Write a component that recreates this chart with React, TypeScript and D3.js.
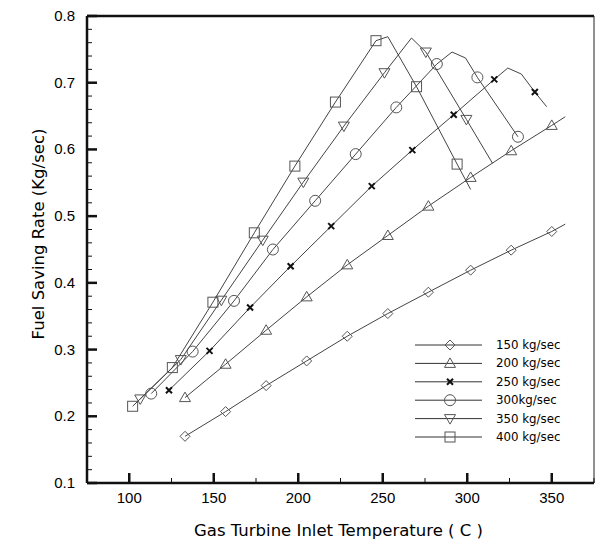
import React from 'react';
import { scaleLinear, line, range } from 'd3';

// series values (temperature C, fuel saving kg/sec)
// mark arrays: 1 = point drawn with a symbol, 0 = plain line vertex
const temps150 = [133, 157, 181, 205, 229, 253, 277, 302, 326, 350, 358];
const rates150 = [0.170, 0.207, 0.246, 0.283, 0.320, 0.354, 0.386, 0.419, 0.449, 0.477, 0.488];
const mark150 = [1, 1, 1, 1, 1, 1, 1, 1, 1, 1, 0];

const temps200 = [133, 157, 181, 205, 229, 253, 277, 302, 326, 350, 358];
const rates200 = [0.228, 0.278, 0.329, 0.379, 0.427, 0.471, 0.515, 0.558, 0.598, 0.636, 0.649];
const mark200 = [1, 1, 1, 1, 1, 1, 1, 1, 1, 1, 0];

const temps250 = [123.5, 147.5, 171.5, 195.5, 219.5, 243.5, 267.5, 292, 316, 324, 332, 340, 347];
const rates250 = [0.239, 0.298, 0.363, 0.425, 0.485, 0.545, 0.599, 0.652, 0.705, 0.722, 0.713, 0.686, 0.664];
const mark250 = [1, 1, 1, 1, 1, 1, 1, 1, 1, 0, 0, 1, 0];

const temps300 = [113, 137.5, 162, 185, 210, 234, 258, 282, 291, 299, 306, 330];
const rates300 = [0.234, 0.297, 0.373, 0.450, 0.523, 0.593, 0.663, 0.728, 0.746, 0.737, 0.708, 0.619];
const mark300 = [1, 1, 1, 1, 1, 1, 1, 1, 0, 0, 1, 1];

const temps350 = [106.5, 130.5, 154.5, 179, 203, 227, 251, 267, 275.5, 299.5, 315];
const rates350 = [0.226, 0.285, 0.374, 0.464, 0.551, 0.635, 0.715, 0.767, 0.746, 0.645, 0.579];
const mark350 = [1, 1, 1, 1, 1, 1, 1, 0, 1, 1, 0];

const temps400 = [102, 125.5, 149.5, 174, 198, 222, 246, 253, 270, 294, 302];
const rates400 = [0.215, 0.273, 0.371, 0.475, 0.575, 0.671, 0.763, 0.769, 0.694, 0.578, 0.540];
const mark400 = [1, 1, 1, 1, 1, 1, 1, 0, 1, 1, 0];

const seriesNames = ['150 kg/sec', '200 kg/sec', '250 kg/sec', '300kg/sec', '350 kg/sec', '400 kg/sec'];
const seriesShapes = ['diamond', 'triangle', 'cross', 'circle', 'triangleDown', 'square'];

const xTickLabels = [100, 150, 200, 250, 300, 350];
const yTickLabels = [0.1, 0.2, 0.3, 0.4, 0.5, 0.6, 0.7, 0.8];

const width = 595;
const height = 542;
const margin = { top: 16, right: 1, left: 87, bottom: 59 };

const Marker = ({ shape, x, y }) => {
  const stroke = '#555';
  if (shape === 'diamond') {
    return <path d={`M${x},${y - 5}L${x + 5},${y}L${x},${y + 5}L${x - 5},${y}Z`} fill="none" stroke={stroke} />;
  }
  if (shape === 'triangle') {
    return <path d={`M${x},${y - 5.5}L${x + 5.5},${y + 4}L${x - 5.5},${y + 4}Z`} fill="none" stroke={stroke} />;
  }
  if (shape === 'triangleDown') {
    return <path d={`M${x},${y + 5.5}L${x + 5.5},${y - 4}L${x - 5.5},${y - 4}Z`} fill="none" stroke={stroke} />;
  }
  if (shape === 'circle') {
    return <circle cx={x} cy={y} r={5.5} fill="none" stroke={stroke} />;
  }
  if (shape === 'square') {
    return <rect x={x - 5} y={y - 5} width={10} height={10} fill="none" stroke={stroke} />;
  }
  return <path d={`M${x - 3},${y - 3}L${x + 3},${y + 3}M${x + 3},${y - 3}L${x - 3},${y + 3}`} stroke="#111" strokeWidth={2} />;
};

const App = () => {
  const x = scaleLinear().domain([75, 375]).range([margin.left, width - margin.right]);
  const y = scaleLinear().domain([0.1, 0.8]).range([height - margin.bottom, margin.top]);

  const series = [
    [temps150, rates150, mark150],
    [temps200, rates200, mark200],
    [temps250, rates250, mark250],
    [temps300, rates300, mark300],
    [temps350, rates350, mark350],
    [temps400, rates400, mark400],
  ].map(([t, r, m], i) => ({
    name: seriesNames[i],
    shape: seriesShapes[i],
    points: t.map((v, j) => ({ t: v, r: r[j], m: m[j] })),
  }));

  const path = line().x(d => x(d.t)).y(d => y(d.r));

  const x0 = margin.left;
  const x1 = width - margin.right;
  const y0 = height - margin.bottom;
  const y1 = margin.top;

  const xMinor = range(75, 376, 25).filter(v => v % 50 !== 0);
  const yMinor = range(0.12, 0.8, 0.02).filter(v => Math.abs(v * 10 - Math.round(v * 10)) > 0.01);

  const font = 'Liberation Sans, Arial, sans-serif';
  const titleFont = 'DejaVu Sans, Verdana, sans-serif';

  return (
    <svg width={width} height={height} style={{ position: 'absolute', left: 0, top: 0, background: 'white' }}>
      {series.map(s => (
        <g key={s.name}>
          <path d={path(s.points)} fill="none" stroke="#444" strokeWidth={1} />
          {s.points.filter(p => p.m).map((p, j) => (
            <Marker key={j} shape={s.shape} x={x(p.t)} y={y(p.r)} />
          ))}
        </g>
      ))}

      {/* frame */}
      <line x1={x1} x2={x1} y1={y1} y2={y0} stroke="#222" strokeWidth={1} />
      <line x1={x0} x2={x1} y1={y1} y2={y1} stroke="#111" strokeWidth={2.5} />
      <line x1={x0} x2={x0} y1={y1} y2={y0} stroke="#111" strokeWidth={2.5} />
      <line x1={x0} x2={x1} y1={y0} y2={y0} stroke="#111" strokeWidth={2.5} />

      {/* x ticks */}
      {xTickLabels.map(v => (
        <g key={v}>
          <line x1={x(v)} x2={x(v)} y1={y0} y2={y0 - 10} stroke="#111" strokeWidth={2.5} />
          <text x={x(v)} y={y0 + 20} textAnchor="middle" style={{ fontSize: '15px', fontFamily: font }}>{v}</text>
        </g>
      ))}
      {xMinor.map(v => (
        <line key={v} x1={x(v)} x2={x(v)} y1={y0} y2={y0 - 5} stroke="#111" strokeWidth={1} />
      ))}

      {/* y ticks */}
      {yTickLabels.map(v => (
        <g key={v}>
          <line x1={x0} x2={x0 + 10} y1={y(v)} y2={y(v)} stroke="#111" strokeWidth={2.5} />
          <text x={x0 - 12} y={y(v) + 5} textAnchor="end" style={{ fontSize: '15px', fontFamily: font }}>{v.toFixed(1)}</text>
        </g>
      ))}
      {yMinor.map(v => (
        <line key={v} x1={x0} x2={x0 + 5} y1={y(v)} y2={y(v)} stroke="#111" strokeWidth={1} />
      ))}

      {/* axis titles */}
      <text x={(x0 + x1) / 2 - 2} y={536} textAnchor="middle" style={{ fontSize: '16.5px', fontFamily: titleFont }}>
        Gas Turbine Inlet Temperature ( C )
      </text>
      <text transform={`translate(44, 234) rotate(-90)`} textAnchor="middle" style={{ fontSize: '16.5px', fontFamily: titleFont }}>
        Fuel Saving Rate (Kg/sec)
      </text>

      {/* legend */}
      {series.map((s, i) => {
        const ly = 345 + i * 18.4;
        return (
          <g key={s.name}>
            <line x1={415} x2={482} y1={ly} y2={ly} stroke="#333" strokeWidth={1} />
            <Marker shape={s.shape} x={450} y={ly} />
            <text x={496} y={ly + 4} style={{ fontSize: '11.8px', fontFamily: titleFont }}>{s.name}</text>
          </g>
        );
      })}
    </svg>
  );
};

export default App;
